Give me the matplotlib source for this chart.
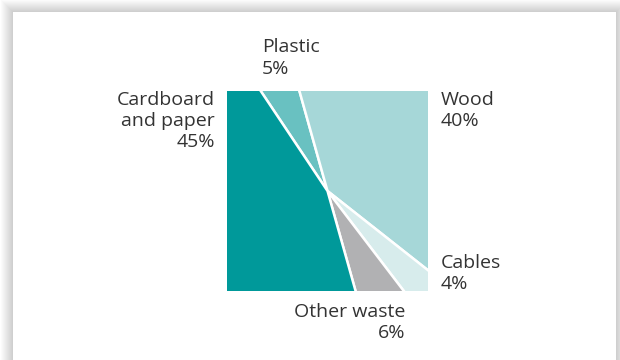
import matplotlib
matplotlib.use("Agg")
import matplotlib.pyplot as plt
from matplotlib.patches import Rectangle

# Waste composition, clockwise starting from the plastic wedge
labels = ["Plastic\n5%", "Wood\n40%", "Cables\n4%", "Other waste\n6%", "Cardboard\nand paper\n45%"]
shares = [5, 40, 4, 6, 45]
colors = ["#69c1c1", "#a6d7d8", "#d7ecec", "#b1b1b3", "#00999a"]

plt.rcParams["font.family"] = ["Open Sans", "DejaVu Sans"]

fig = plt.figure(figsize=(6.2, 3.6), dpi=100)
fig.patch.set_facecolor("white")

# card with soft shadow
W, H = 620.0, 360.0
for i in range(12, 0, -1):
    fig.patches.append(Rectangle(((13 - i) / W, -0.1), (603 + 2 * i) / W, (348 + i + 36) / H,
                                 transform=fig.transFigure, facecolor="black",
                                 alpha=0.014, edgecolor="none", zorder=0))
fig.patches.append(Rectangle((13 / W, -0.1), 603 / W, (348 + 36) / H, transform=fig.transFigure,
                             facecolor="white", edgecolor="none", zorder=1))

ax = fig.add_axes([227 / W, (360 - 291) / H, 201 / W, 200 / H])
ax.set_zorder(2)
wedges, _ = ax.pie(shares, colors=colors, startangle=123.6, counterclock=False,
                   radius=1.6, wedgeprops=dict(edgecolor="white", linewidth=1.8))
clip = Rectangle((-1, -1), 2, 2, transform=ax.transData, facecolor="none", edgecolor="none")
ax.add_patch(clip)
for w in wedges:
    w.set_clip_on(True)
    w.set_clip_path(clip)
ax.set_xlim(-1, 1)
ax.set_ylim(-1, 1)
ax.set_aspect("auto")
ax.axis("off")

txt = dict(fontsize=14, color="#333333", linespacing=1.24, clip_on=False)
ax.text(-0.65, 1.33, labels[0], ha="left", va="center", multialignment="left", **txt)
ax.text(1.13, 0.805, labels[1], ha="left", va="center", multialignment="left", **txt)
ax.text(1.13, -0.825, labels[2], ha="left", va="center", multialignment="left", **txt)
ax.text(0.77, -1.315, labels[3], ha="right", va="center", multialignment="right", **txt)
ax.text(-1.12, 0.70, labels[4], ha="right", va="center", multialignment="right", **txt)

fig.savefig("out.png", dpi=100)
